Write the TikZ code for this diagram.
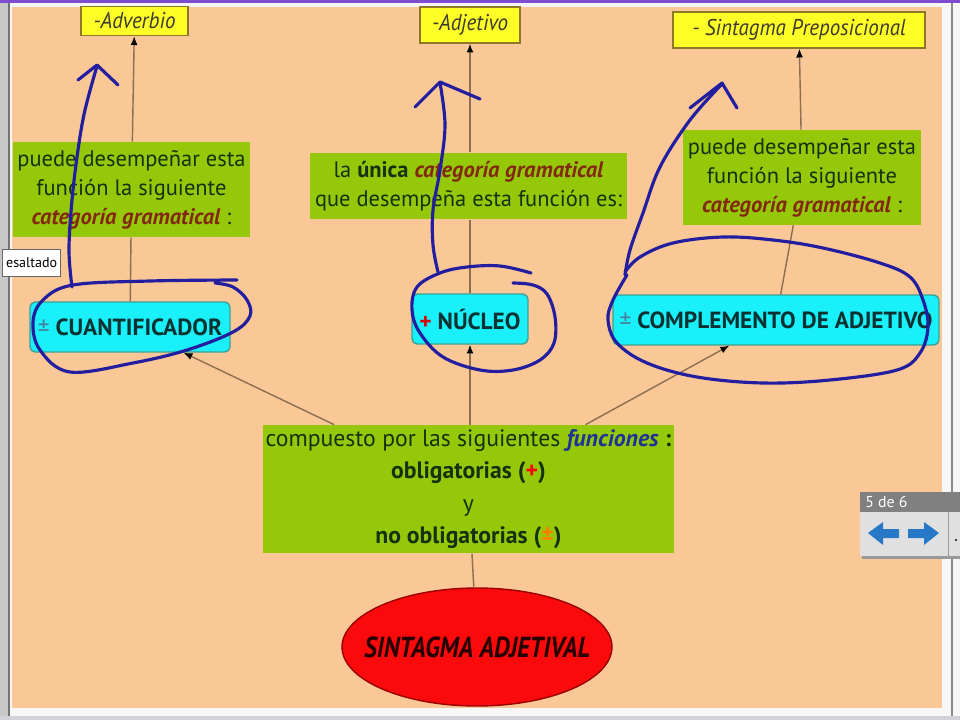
\documentclass[tikz,border=0pt]{standalone}
\usepackage{fontspec}
\setmainfont{PT Sans}
\usetikzlibrary{arrows.meta,shapes.geometric}
\definecolor{fondo}{RGB}{250,200,150}
\definecolor{amarillo}{RGB}{255,255,40}
\definecolor{bordeam}{RGB}{140,120,40}
\definecolor{verde}{RGB}{150,200,10}
\definecolor{cian}{RGB}{25,240,250}
\definecolor{bordecian}{RGB}{60,160,150}
\definecolor{rojo}{RGB}{250,10,10}
\definecolor{txtverde}{RGB}{20,50,15}
\definecolor{txtcat}{RGB}{130,40,15}
\definecolor{txtazul}{RGB}{30,50,150}
\definecolor{txtcian}{RGB}{10,50,50}
\definecolor{enlace}{RGB}{140,110,80}
\definecolor{tinta}{RGB}{35,30,160}
\definecolor{flecha}{RGB}{40,120,200}
\newcommand{\categ}[1]{\textcolor{txtcat}{\textbf{\textit{#1}}}}
\begin{document}
\begin{tikzpicture}[x=0.02cm,y=-0.02cm,
	ejemplo/.style={draw=bordeam,fill=amarillo,line width=0.8pt,inner sep=1pt,text=black!75!olive,font=\fontsize{13}{15}\selectfont\itshape},
	frase/.style={fill=verde,inner sep=0pt,align=center,text=txtverde,font=\fontsize{12.8}{16.5}\selectfont},
	concepto/.style={draw=bordecian,fill=cian,line width=0.8pt,rounded corners=3pt,inner sep=0pt,minimum height=1cm,text=txtcian,font=\fontsize{13.3}{15}\selectfont\bfseries},
	enlace/.style={draw=enlace,line width=0.8pt},
	flechita/.style={enlace,-{Latex[color=black,length=5pt,width=4pt]}},
	tinta/.style={draw=tinta,line width=1.8pt,line cap=round,line join=round}]
	\useasboundingbox (0,0) rectangle (960,720);
	\fill[black!3] (0,0) rectangle (960,720);
	\fill[black!22] (0,0) rectangle (8,720);
	\draw[black!55,line width=1pt] (9,0) -- (9,720);
	\fill[fondo] (12,7) rectangle (942,708);
	\fill[violet!55!blue!70!white] (0,0) rectangle (960,3);
	\draw[black!45,line width=1pt] (952,3) -- (952,720);
	\fill[blue!12!black!18] (0,716) rectangle (960,720);

	\node[ejemplo,minimum width=2.14cm,minimum height=0.58cm] (adverbio) at (134.5,21) {\scalebox{0.92}[1]{-Adverbio}};
	\node[ejemplo,minimum width=2cm,minimum height=0.72cm] (adjetivo) at (470,25) {\scalebox{0.92}[1]{-Adjetivo}};
	\node[ejemplo,minimum width=5.04cm,minimum height=0.72cm] (prepos) at (799,30) {\scalebox{0.92}[1]{- Sintagma Preposicional}};

	\node[frase,minimum width=4.74cm,minimum height=1.9cm] (puede1) at (131.5,189.5) {puede desempeñar esta\\función la siguiente\\\categ{categoría gramatical} :};
	\node[frase,minimum width=6.34cm,minimum height=1.34cm] (unica) at (468.5,186) {la \textbf{única} \categ{categoría gramatical}\\que desempeña esta función es:};
	\node[frase,minimum width=4.76cm,minimum height=1.9cm] (puede2) at (802,177.5) {puede desempeñar esta\\función la siguiente\\\categ{categoría gramatical} :};

	\node[concepto,minimum width=4cm] (cuant) at (130,327) {\textcolor{black!45!cyan}{\mdseries ±} CUANTIFICADOR};
	\node[concepto,minimum width=2.32cm] (nucleo) at (470,319) {\textcolor{red!85!black}{+} NÚCLEO};
	\node[concepto,minimum width=6.52cm] (complem) at (776,320) {\textcolor{black!45!cyan}{\mdseries ±} COMPLEMENTO DE ADJETIVO};

	\node[frase,minimum width=8.22cm,minimum height=2.56cm,font=\fontsize{13.5}{18.5}\selectfont] (compuesto) at (468.5,489) {compuesto por las siguientes \textcolor{txtazul}{\textbf{\textit{funciones}}} \textbf{:}\\\textbf{obligatorias (\textcolor{red}{+})}\\y\\\textbf{no obligatorias (\textcolor{orange}{±})}};

	\node[ellipse,draw=red!60!black,fill=rojo,line width=0.8pt,minimum width=5.4cm,minimum height=2.36cm,inner xsep=-12pt,inner ysep=0pt,font=\fontsize{16.5}{18}\selectfont\bfseries\itshape,text=black!85!red] (sintagma) at (477,647) {\scalebox{0.86}[1]{SINTAGMA ADJETIVAL}};

	\draw[enlace] (sintagma) -- (compuesto);
	\draw[flechita] (compuesto) -- (cuant);
	\draw[flechita] (compuesto.north -| nucleo) -- (nucleo);
	\draw[flechita] (compuesto) -- (complem);
	\draw[enlace] (cuant) -- (puede1);
	\draw[flechita] (puede1) -- (adverbio);
	\draw[enlace] (nucleo) -- (unica.south -| nucleo);
	\draw[flechita] (unica.north -| adjetivo) -- (adjetivo);
	\draw[enlace] (complem) -- (puede2);
	\draw[flechita] (puede2) -- (prepos);

	\draw[tinta] plot[smooth,tension=0.6] coordinates {(237,280) (150,281) (73,285) (43,300) (33,322) (40,350) (70,372) (133,363) (187,350) (233,332) (250,316) (247,300) (233,287) (215,283)};
	\draw[tinta] plot[smooth,tension=0.6] coordinates {(72,287) (69,250) (72,200) (78,150) (85,110) (97,66)};
	\draw[tinta] (78,80) -- (97,65) -- (118,85);
	\draw[tinta] plot[smooth,tension=0.6] coordinates {(513,283) (533,285) (547,294) (555,317) (554,343) (540,360) (513,370) (480,370) (443,357) (420,333) (412,310) (417,287) (440,273) (467,267) (500,266) (531,273)};
	\draw[tinta] plot[smooth,tension=0.6] coordinates {(438,272) (433,245) (433,210) (440,170) (445,125) (440,83)};
	\draw[tinta] (415,107) -- (440,82) -- (480,99);
	\draw[tinta] plot[smooth,tension=0.6] coordinates {(627,275) (613,300) (608,320) (617,343) (647,363) (697,377) (763,383) (830,380) (897,370) (920,353) (928,327) (923,300) (910,277) (880,263) (823,248) (773,240) (723,237) (673,243) (640,257) (625,272)};
	\draw[tinta] plot[smooth,tension=0.6] coordinates {(625,275) (630,250) (643,213) (660,167) (690,120) (722,84)};
	\draw[tinta] (690,108) -- (722,83) -- (737,108);

	\node[draw=black!60,fill=white,anchor=east,minimum height=0.54cm,inner sep=2pt,font=\fontsize{8}{9}\selectfont] (resaltado) at (61,263) {esaltado};

	\fill[black!40] (862,556) rectangle (960,559);
	\fill[black!12] (860,492) rectangle (960,556);
	\fill[black!50] (860,492) rectangle (960,512);
	\node[anchor=west,inner sep=0pt,text=white,font=\fontsize{9}{10}\selectfont] (pagina) at (865,502) {5 de 6};
	\draw[black!40] (948,512) -- (948,556);
	\fill[flecha] (868,533) -- (883,522) -- (883,529) -- (899,529) -- (899,538) -- (883,538) -- (883,545) -- cycle;
	\fill[flecha] (939,533) -- (924,522) -- (924,529) -- (908,529) -- (908,538) -- (924,538) -- (924,545) -- cycle;
	\fill[black] (956,540) circle (1.2);
\end{tikzpicture}
\end{document}
